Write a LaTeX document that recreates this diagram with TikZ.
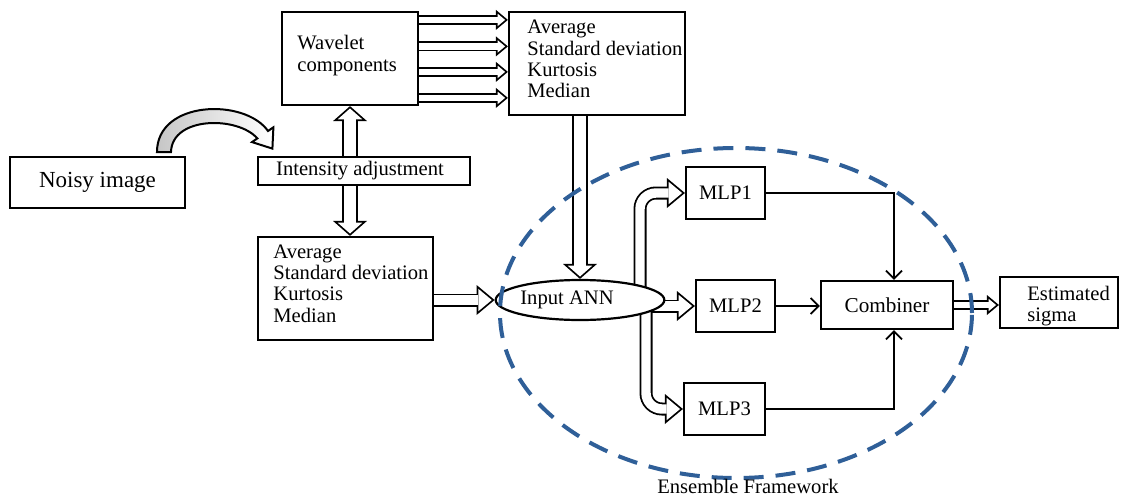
\documentclass[tikz,border=0pt]{standalone}
\usepackage{fontspec}
\setmainfont{Liberation Serif}
\usetikzlibrary{arrows.meta,shapes.geometric,calc}
\definecolor{ensblue}{RGB}{47,95,152}
\newcommand{\fsz}[1]{\fontsize{#1}{10.6}\selectfont}
\pgfdeclarelayer{bg}
\pgfsetlayers{bg,main}
\begin{document}
\begin{tikzpicture}[x=0.5pt,y=-0.5pt,
  box/.style={draw, line width=1.1pt, inner sep=0pt},
  txt/.style={inner sep=0pt, align=left, font=\fsz{10.3}},
  conn/.style={line width=0.9pt, -{Straight Barb[length=4pt,width=8pt]}},
  hs/.style={line width=5pt, -{Triangle[length=6pt,width=10pt,line width=0pt]},
    postaction={draw=white, line width=3.2pt, shorten >=1.41pt, -{Triangle[length=3.69pt,width=6.15pt,line width=0pt]}}},
  hm/.style={line width=6.5pt, -{Triangle[length=9pt,width=15pt,line width=0pt]},
    postaction={draw=white, line width=4.7pt, shorten >=1.41pt, -{Triangle[length=6.69pt,width=11.15pt,line width=0pt]}}},
  hl/.style={line width=8pt, -{Triangle[length=7.5pt,width=17pt,line width=0pt]},
    postaction={draw=white, line width=6.2pt, shorten >=1.2pt, -{Triangle[length=5.4pt,width=12.24pt,line width=0pt]}}}
]
\useasboundingbox (0,0) rectangle (1130,498);

% boxes
\node[box, minimum width=87.5pt, minimum height=25.5pt, font=\fsz{11.5}] (noisy) at (97.5,182.5) {Noisy image};
\node[box, minimum width=68pt, minimum height=46.5pt] (wav) at (350,58.5) {};
\node[txt, anchor=west] (wavT) at (297,55.5) {Wavelet\\components};
\node[box, minimum width=88pt, minimum height=51.5pt] (ts) at (597,63.5) {};
\node[txt, anchor=west] (tsT) at (527,59) {Average\\Standard deviation\\Kurtosis\\Median};
\node[box, minimum width=106pt, minimum height=14pt, font=\fsz{10.3}] (ia) at (364,171) {Intensity adjustment\hspace*{4pt}};
\node[box, minimum width=87.5pt, minimum height=51.5pt] (ls) at (345.5,288.5) {};
\node[txt, anchor=west] (lsT) at (273,283.5) {Average\\Standard deviation\\Kurtosis\\Median};
\node[box, ellipse, fill=white, minimum width=78pt, minimum height=20pt, font=\fsz{10.3}] (ann) at (580,300) {Input ANN\hspace*{13pt}};
\node[box, minimum width=39.5pt, minimum height=26pt, font=\fsz{10.3}] (mlp1) at (725.5,193) {MLP1};
\node[box, minimum width=39.5pt, minimum height=26pt, font=\fsz{10.3}] (mlp2) at (735.5,306) {MLP2};
\node[box, minimum width=40.5pt, minimum height=26pt, font=\fsz{10.3}] (mlp3) at (724.5,409) {MLP3};
\node[box, minimum width=66pt, minimum height=24pt, font=\fsz{10.6}] (comb) at (887,305) {Combiner};
\node[box, minimum width=59pt, minimum height=25.5pt] (est) at (1059,302.5) {};
\node[txt, anchor=west] (estT) at (1027,306) {Estimated\\sigma};
\coordinate (jx) at (894,0);

% connectors
\begin{pgfonlayer}{bg}
\foreach \d in {9,35.5,61,87}
  \draw[hs] ($(wav.north east)+(0,\d)$) -- ($(ts.north west)+(0,\d)$);
\draw[hl] (ia.north -| wav.south) -- (wav.south);
\draw[hl] (ia.south -| wav.south) -- (ls.north -| wav.south);
\draw[hl] (ts.south -| ann.north) -- (ann.north);
\draw[hm] (ls.east |- ann.west) -- (ann.west);
\draw[hm, rounded corners=8pt] ($(ann.center)+(60,0)$) |- (mlp1.west);
\draw[hm] (ann.center |- mlp2.west) -- (mlp2.west);
\draw[hm, rounded corners=8pt] ($(ann.center)+(66,0)$) |- (mlp3.west);
\draw[hs] (comb.east) -- (est.west |- comb.east);
\end{pgfonlayer}

\draw[conn] (mlp1.east) -| (jx |- comb.north);
\draw[conn] (mlp2.east) -- (comb.west |- mlp2.east);
\draw[conn] (mlp3.east) -| (jx |- comb.south);

% curved arrow from noisy image to intensity adjustment
\path[draw, line width=1pt, left color=gray!45, right color=white]
  (157,152) .. controls (157,100) and (245,98) .. (268,131)
  -- (273.4,127.3) -- (272.4,148.6) -- (252,142.1) -- (257.3,138.4)
  .. controls (238,116) and (172,116) .. (171,152) -- cycle;

% ensemble framework
\node[ellipse, draw=ensblue, line width=2pt, dash pattern=on 10pt off 6pt, minimum width=236pt, minimum height=165pt] (ens) at (736,313) {};
\node[font=\fsz{10.3}, inner sep=0pt] (enslbl) at (748,486) {Ensemble Framework};
\end{tikzpicture}
\end{document}
